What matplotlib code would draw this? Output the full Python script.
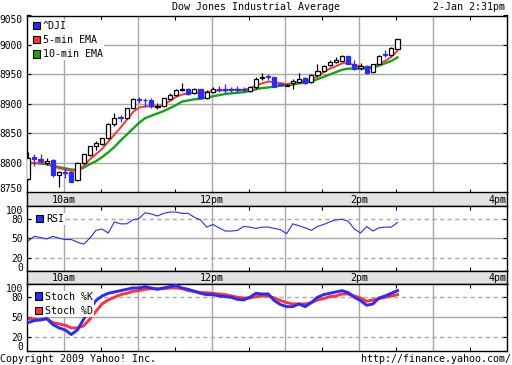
import numpy as np
import matplotlib
matplotlib.use("Agg")
import matplotlib.pyplot as plt
from matplotlib.patches import Rectangle

plt.rcParams['font.family'] = 'DejaVu Sans Mono'
plt.rcParams['font.size'] = 7.2

# 5-min bars, minutes after 9:30 open
bar_min = np.arange(61) * 5 + 1

opens = [8773, 8811, 8806, 8800, 8805, 8779, 8784, 8785, 8771, 8800,
         8814, 8828, 8833, 8842, 8866, 8878, 8876, 8893, 8909, 8907,
         8907, 8895, 8897, 8909, 8916, 8924, 8925, 8919, 8925, 8911,
         8920, 8925, 8925, 8925, 8925, 8925, 8922, 8928, 8944, 8947,
         8945, 8934, 8931, 8935, 8938, 8944, 8937, 8949, 8956, 8966,
         8971, 8973, 8981, 8968, 8961, 8965, 8954, 8968, 8984, 8983, 8994]
highs = [8819, 8815, 8816, 8808, 8806, 8786, 8791, 8787, 8801, 8816,
         8829, 8838, 8843, 8867, 8884, 8881, 8894, 8910, 8912, 8910,
         8911, 8901, 8911, 8918, 8925, 8936, 8927, 8927, 8926, 8923,
         8928, 8930, 8934, 8928, 8930, 8928, 8931, 8946, 8952, 8950,
         8946, 8938, 8934, 8942, 8952, 8945, 8950, 8967, 8966, 8975,
         8979, 8983, 8982, 8974, 8969, 8966, 8968, 8983, 8991, 8996, 9011]
lows = [8771, 8795, 8800, 8797, 8777, 8760, 8775, 8768, 8769, 8798,
        8812, 8822, 8831, 8840, 8862, 8870, 8874, 8891, 8901, 8895,
        8893, 8891, 8895, 8907, 8914, 8922, 8915, 8917, 8908, 8909,
        8918, 8921, 8918, 8921, 8921, 8922, 8921, 8926, 8940, 8941,
        8928, 8930, 8930, 8926, 8936, 8934, 8935, 8946, 8955, 8964,
        8970, 8972, 8967, 8958, 8958, 8951, 8953, 8967, 8980, 8981, 8993]
closes = [8808, 8806, 8804, 8804, 8779, 8784, 8783, 8768, 8800, 8815,
          8828, 8834, 8842, 8866, 8877, 8877, 8893, 8908, 8907, 8906,
          8896, 8896, 8910, 8916, 8924, 8925, 8917, 8925, 8910, 8921,
          8925, 8924, 8924, 8924, 8924, 8924, 8928, 8942, 8945, 8946,
          8929, 8933, 8933, 8939, 8943, 8936, 8949, 8956, 8965, 8971,
          8975, 8982, 8968, 8960, 8965, 8953, 8967, 8982, 8983, 8995, 9010]

ema5 = [8800, 8800, 8800, 8800, 8795, 8791, 8789, 8787, 8787, 8795,
        8806, 8815, 8824, 8836, 8848, 8860, 8873, 8886, 8894, 8896,
        8896, 8896, 8898, 8905, 8912, 8916, 8918, 8920, 8919, 8920,
        8922, 8923, 8923, 8924, 8924, 8924, 8926, 8931, 8935, 8938,
        8937, 8935, 8934, 8935, 8938, 8939, 8942, 8947, 8954, 8960,
        8964, 8969, 8969, 8966, 8964, 8961, 8963, 8969, 8973, 8980, 8990]
ema10 = [8800, 8800, 8799, 8798, 8795, 8793, 8791, 8789, 8788, 8792,
         8798, 8803, 8810, 8818, 8827, 8838, 8848, 8858, 8868, 8876,
         8880, 8884, 8888, 8893, 8898, 8904, 8906, 8908, 8909, 8911,
         8913, 8915, 8917, 8918, 8919, 8920, 8922, 8925, 8927, 8928,
         8930, 8931, 8932, 8933, 8935, 8936, 8938, 8942, 8946, 8950,
         8954, 8958, 8960, 8960, 8960, 8960, 8962, 8965, 8969, 8973, 8979]

rsi = [46, 53, 51, 49, 53, 50, 48, 48, 44, 41,
       50, 62, 64, 58, 75, 72, 72, 78, 80, 89,
       87, 84, 88, 90, 90, 88, 88, 82, 78, 67,
       71, 66, 61, 61, 62, 68, 67, 65, 67, 67,
       65, 63, 57, 72, 69, 66, 62, 68, 71, 75,
       78, 79, 76, 64, 58, 68, 61, 66, 67, 67, 74]

stoch_k = [42, 45, 46, 48, 39, 34, 31, 24, 31, 47,
           62, 75, 82, 86, 88, 90, 92, 94, 94, 96,
           94, 92, 94, 96, 98, 94, 92, 89, 86, 84,
           84, 82, 81, 80, 77, 76, 80, 86, 85, 85,
           75, 69, 66, 66, 70, 66, 72, 80, 84, 86,
           88, 90, 87, 80, 75, 68, 70, 79, 82, 86, 90]
stoch_d = [48, 47, 46, 48, 42, 40, 38, 34, 34, 37,
           47, 59, 70, 76, 80, 84, 86, 89, 90, 92,
           93, 93, 93, 94, 94, 93, 90, 89, 87, 87,
           86, 85, 84, 82, 80, 79, 79, 81, 82, 82,
           79, 75, 72, 70, 70, 70, 72, 76, 78, 81,
           82, 85, 85, 82, 79, 74, 76, 78, 80, 82, 84]

hour_min = [30, 90, 150, 210, 270, 330]
half_min = [0, 60, 120, 180, 240, 300, 360]
time_pos = [30, 150, 270, 390]
time_labels = ['10am', '12pm', '2pm', '4pm']

BLUE = '#2a2aff'
RED = '#ff3333'
GREEN = '#12a512'
GRID = '#a8a8a8'

W, H = 512, 365
fig = plt.figure(figsize=(W / 100, H / 100), dpi=100)


def px_axes(x0, y0, x1, y1):
    return fig.add_axes([x0 / W, 1 - y1 / H, (x1 - x0) / W, (y1 - y0) / H])


def style_panel(ax, yticks, ylabels, dashed=()):
    ax.set_xlim(0, 390)
    ax.set_yticks(yticks)
    ax.set_yticklabels(ylabels, fontsize=6.9)
    labs = ax.get_yticklabels()
    labs[0].set_va('baseline')
    labs[-1].set_va('top')
    ax.set_xticks(half_min)
    ax.set_xticklabels([])
    ax.tick_params(axis='both', direction='in', length=3, pad=3, width=0.8,
                   top=True, right=True, bottom=True, left=True)
    for x in hour_min:
        ax.axvline(x, color=GRID, lw=1, zorder=0)
    for y in yticks[1:-1]:
        ls = (0, (3, 2.5)) if y in dashed else '-'
        ax.axhline(y, color=GRID, lw=1, ls=ls, zorder=0)
    for s in ax.spines.values():
        s.set_linewidth(1)


def legend(ax, items, pad):
    handles = [Rectangle((0, 0), 1, 1, facecolor=c, edgecolor='black', lw=0.8)
               for c, _ in items]
    lg = ax.legend(handles, [t for _, t in items], loc='upper left',
                   handlelength=0.75, handleheight=0.75, handletextpad=0.3,
                   labelspacing=0.42, borderpad=0.1, borderaxespad=pad,
                   frameon=True, fancybox=False, framealpha=1,
                   edgecolor='none', facecolor='white')
    lg.set_zorder(10)


def band(y0, y1):
    b = px_axes(27, y0, 507, y1)
    b.set_facecolor('#e2e2e2')
    b.set_xlim(0, 390)
    b.set_ylim(0, 1)
    b.set_xticks([])
    b.set_yticks([])
    for s in b.spines.values():
        s.set_linewidth(1)
    for x, t in zip(time_pos, time_labels):
        b.text(x, 0.45, t, ha='right' if x == 390 else 'center', va='center')


# main price panel
ax = px_axes(27, 15.5, 507, 192.5)
ax.set_ylim(8750, 9050)
style_panel(ax, [8750, 8800, 8850, 8900, 8950, 9000, 9050],
            ['8750', '8800', '8850', '8900', '8950', '9000', '9050'])
ax.plot(bar_min, ema10, color=GREEN, lw=1.7, zorder=2)
ax.plot(bar_min, ema5, color=RED, lw=1.4, zorder=2)

o = np.array(opens)
c = np.array(closes)
up = c >= o
wick_col = np.where(up, 'black', BLUE)
ax.vlines(bar_min, lows, highs, colors=wick_col, lw=0.9, zorder=3)
ax.bar(bar_min[up], (c - o)[up], bottom=o[up], width=3.4,
       facecolor='white', edgecolor='black', lw=0.9, zorder=4)
ax.bar(bar_min[~up], (c - o)[~up], bottom=o[~up], width=3.4,
       facecolor=BLUE, edgecolor=BLUE, lw=0.9, zorder=4)
legend(ax, [(BLUE, '^DJI'), (RED, '5-min EMA'), (GREEN, '10-min EMA')], 0.45)

band(192.5, 205.5)

# RSI panel
ax2 = px_axes(27, 205.5, 507, 271)
ax2.set_ylim(0, 100)
style_panel(ax2, [0, 20, 50, 80, 100], ['0', '20', '50', '80', '100'],
            dashed=(20, 80))
ax2.plot(bar_min, rsi, color=BLUE, lw=0.8, zorder=2)
legend(ax2, [(BLUE, 'RSI')], 0.75)

band(271, 284)

# Stochastics panel
ax3 = px_axes(27, 284, 507, 350.5)
ax3.set_ylim(0, 100)
style_panel(ax3, [0, 20, 50, 80, 100], ['0', '20', '50', '80', '100'],
            dashed=(20, 80))
ax3.plot(bar_min, stoch_d, color=RED, lw=2.1, zorder=2)
ax3.plot(bar_min, stoch_k, color=BLUE, lw=2.1, zorder=3)
legend(ax3, [(BLUE, 'Stoch %K'), (RED, 'Stoch %D')], 0.65)

fig.text(256 / W, 1 - 7 / H, 'Dow Jones Industrial Average', ha='center', va='center')
fig.text(505 / W, 1 - 7 / H, '2-Jan 2:31pm', ha='right', va='center')
fig.text(0, 1 - 359 / H, 'Copyright 2009 Yahoo! Inc.', ha='left', va='center')
fig.text(511 / W, 1 - 359 / H, 'http://finance.yahoo.com/', ha='right', va='center')

fig.savefig('out.png', dpi=100, facecolor='white')
